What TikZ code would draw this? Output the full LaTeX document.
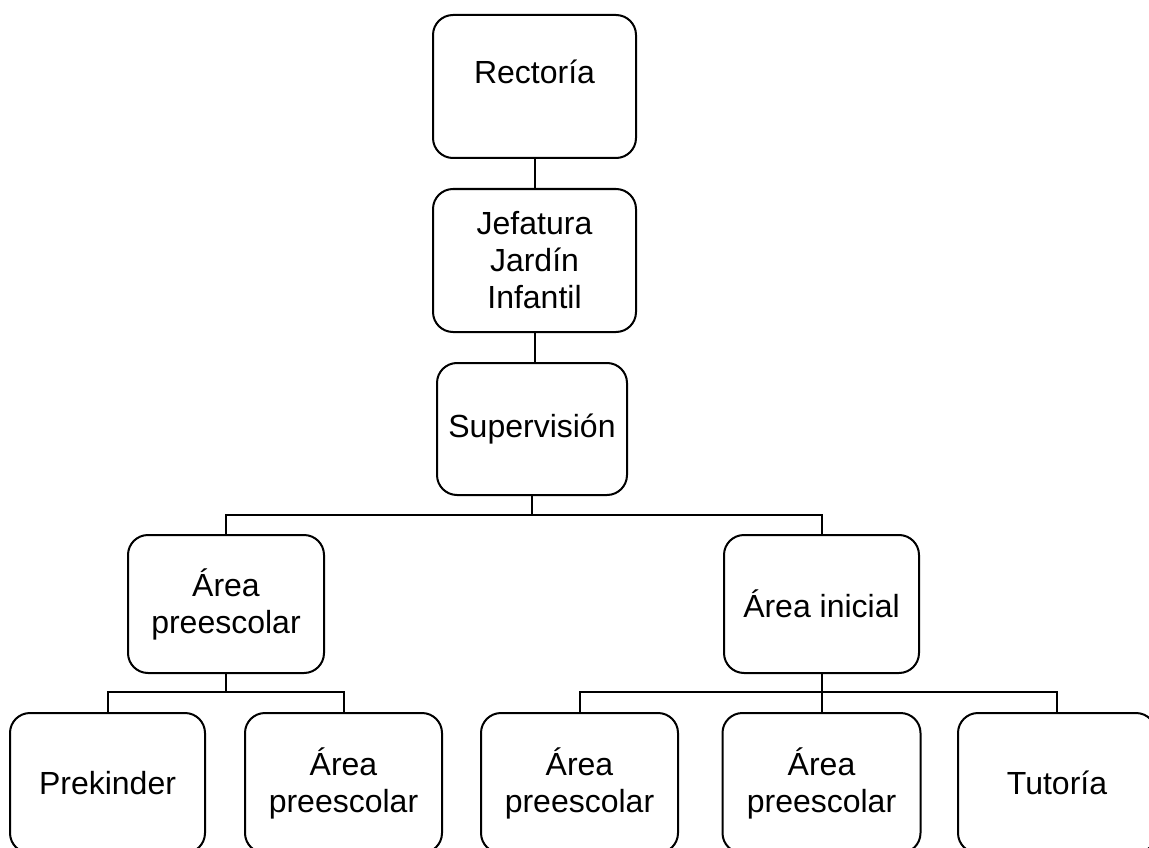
\documentclass[tikz,border=0pt]{standalone}
\usepackage{fontspec}
\setmainfont{Liberation Sans}
\begin{document}
\begin{tikzpicture}[x=1pt,y=-1pt,
  unit/.style={draw=black, line width=2pt, rounded corners=20pt, align=center,
    inner sep=0pt, font=\fontsize{32}{37}\selectfont},
  link/.style={draw=black, line width=2pt}]
  \useasboundingbox (0,0) rectangle (1149,848);

  % upper chain
  \node[unit, minimum width=203pt, minimum height=143pt, text height=24pt, text depth=30pt]
    (rect) at (534.5,86.5) {Rectoría};
  \node[unit, minimum width=203pt, minimum height=143pt] (jef) at (534.5,260.5)
    {Jefatura\\Jardín\\Infantil};
  \node[unit, minimum width=190pt, minimum height=132pt] (sup) at (532,429) {Supervisión};

  % areas
  \node[unit, minimum width=196pt, minimum height=138pt] (apl) at (226,604) {Área\\preescolar};
  \node[unit, minimum width=195pt, minimum height=138pt] (ain) at (821.5,604) {Área inicial};

  % bottom row
  \node[unit, minimum width=195pt, minimum height=140pt] (b1) at (107.5,783) {Prekinder};
  \node[unit, minimum width=197pt, minimum height=140pt] (b2) at (343.5,783) {Área\\preescolar};
  \node[unit, minimum width=197pt, minimum height=140pt] (b3) at (579.5,783) {Área\\preescolar};
  \node[unit, minimum width=198pt, minimum height=140pt] (b4) at (821.5,783) {Área\\preescolar};
  \node[unit, minimum width=198pt, minimum height=140pt] (b5) at (1057,783) {Tutoría};

  % junction points
  \coordinate (j1) at (sup.south |- 0,515);
  \coordinate (j2) at (apl.south |- 0,692);
  \coordinate (j3) at (ain.south |- 0,692);

  % connectors
  \draw[link] (rect.south) -- (jef.north);
  \draw[link] (jef.south) -- (jef.south |- sup.north);
  \draw[link] (sup.south) -- (j1);
  \draw[link] (apl.north) |- (j1) -| (ain.north);
  \draw[link] (apl.south) -- (j2);
  \draw[link] (b1.north) |- (j2) -| (b2.north);
  \draw[link] (ain.south) -- (j3);
  \draw[link] (b3.north) |- (j3) -| (b5.north);
  \draw[link] (j3) -- (b4.north);
\end{tikzpicture}
\end{document}
